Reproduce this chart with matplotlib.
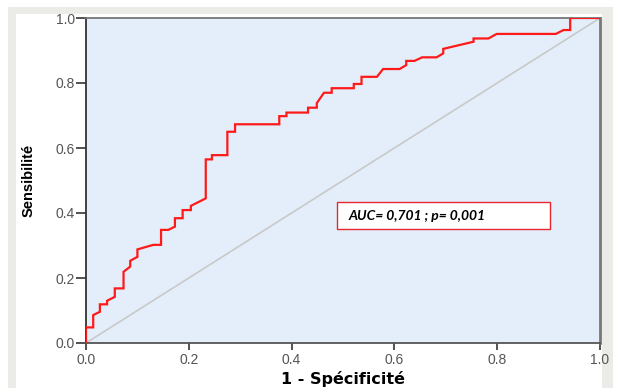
"""
ROC curve (courbe ROC) - Sensibilité vs 1 - Spécificité
"""
import matplotlib
matplotlib.use("Agg")
import matplotlib.pyplot as plt
from matplotlib.patches import Rectangle

# vertices of the ROC curve
fpr = [0.000, 0.000, 0.014, 0.014, 0.027, 0.027, 0.041, 0.041, 0.056, 0.056,
       0.073, 0.073, 0.086, 0.086, 0.100, 0.100, 0.131, 0.146, 0.146, 0.160,
       0.173, 0.173, 0.188, 0.188, 0.204, 0.204, 0.233, 0.233, 0.245, 0.245,
       0.275, 0.275, 0.290, 0.290, 0.376, 0.376, 0.390, 0.390, 0.432, 0.432,
       0.449, 0.449, 0.463, 0.478, 0.478, 0.521, 0.521, 0.536, 0.536, 0.566,
       0.578, 0.610, 0.623, 0.623, 0.639, 0.654, 0.682, 0.695, 0.695, 0.754,
       0.754, 0.783, 0.799, 0.914, 0.929, 0.942, 0.942, 1.000]
tpr = [0.000, 0.048, 0.048, 0.086, 0.096, 0.119, 0.119, 0.130, 0.142, 0.168,
       0.168, 0.219, 0.235, 0.253, 0.265, 0.288, 0.302, 0.302, 0.348, 0.348,
       0.358, 0.384, 0.384, 0.409, 0.409, 0.422, 0.445, 0.565, 0.565, 0.578,
       0.578, 0.650, 0.650, 0.673, 0.673, 0.698, 0.698, 0.709, 0.709, 0.724,
       0.724, 0.738, 0.770, 0.770, 0.784, 0.784, 0.797, 0.797, 0.819, 0.819,
       0.843, 0.843, 0.855, 0.868, 0.868, 0.879, 0.879, 0.891, 0.905, 0.927,
       0.937, 0.937, 0.951, 0.951, 0.963, 0.963, 1.000, 1.000]

auc_label = "AUC= 0,701 ; p= 0,001"
ticks = [0.0, 0.2, 0.4, 0.6, 0.8, 1.0]
tick_labels = ["0.0", "0.2", "0.4", "0.6", "0.8", "1.0"]

fig = plt.figure(figsize=(6.18, 3.88), dpi=100)
fig.patch.set_facecolor("white")

# grey frame around the chart
W, H = 618.0, 388.0
fig.add_artist(Rectangle((8 / W, 0), 605 / W, 381 / H, transform=fig.transFigure,
                         facecolor="#ebebe8", edgecolor="none", zorder=-2))
fig.add_artist(Rectangle((16 / W, 0), 586 / W, 374 / H, transform=fig.transFigure,
                         facecolor="white", edgecolor="none", zorder=-1))

ax = fig.add_axes([86 / W, 45 / H, 514 / W, 325 / H])
ax.set_facecolor("#e3eefa")

ax.plot([0, 1], [0, 1], color="#c9c9c9", lw=1.2, zorder=2)
ax.plot(fpr, tpr, color="#ff1a1a", lw=1.6, zorder=3, solid_joinstyle="miter")

ax.set_xlim(0, 1)
ax.set_ylim(0, 1)
ax.set_xticks(ticks)
ax.set_yticks(ticks)
ax.set_xticklabels(tick_labels)
ax.set_yticklabels(tick_labels)
ax.tick_params(axis="y", length=7, width=1.2, color="#333333", pad=1,
               labelsize=10, labelcolor="#555555")
ax.tick_params(axis="x", length=5, width=1.2, color="#333333", pad=2,
               labelsize=10, labelcolor="#555555")
for lab in ax.get_xticklabels() + ax.get_yticklabels():
    lab.set_family("Liberation Sans")

ax.spines["left"].set_color("#333333")
ax.spines["left"].set_linewidth(1.3)
ax.spines["bottom"].set_color("#555555")
ax.spines["bottom"].set_linewidth(1.3)
ax.spines["top"].set_color("#777777")
ax.spines["top"].set_linewidth(1.3)
ax.spines["right"].set_color("#777777")
ax.spines["right"].set_linewidth(2)

ax.set_xlabel("1 - Spécificité", fontsize=11.5, fontweight="bold",
              family="DejaVu Sans", labelpad=3)
ax.set_ylabel("Sensibilité", fontsize=10.5, fontweight="bold",
              family="Liberation Sans", labelpad=14)

# AUC box
ax.add_patch(Rectangle((0.488, 0.350), 0.415, 0.083, transform=ax.transAxes,
                       facecolor="white", edgecolor="#e8282e", lw=1, zorder=4))
ax.text(0.510, 0.391, auc_label, transform=ax.transAxes, fontsize=10,
        fontweight="bold", fontstyle="italic", family="Lato",
        va="center", ha="left", zorder=5)

fig.savefig("out.png", dpi=100)
